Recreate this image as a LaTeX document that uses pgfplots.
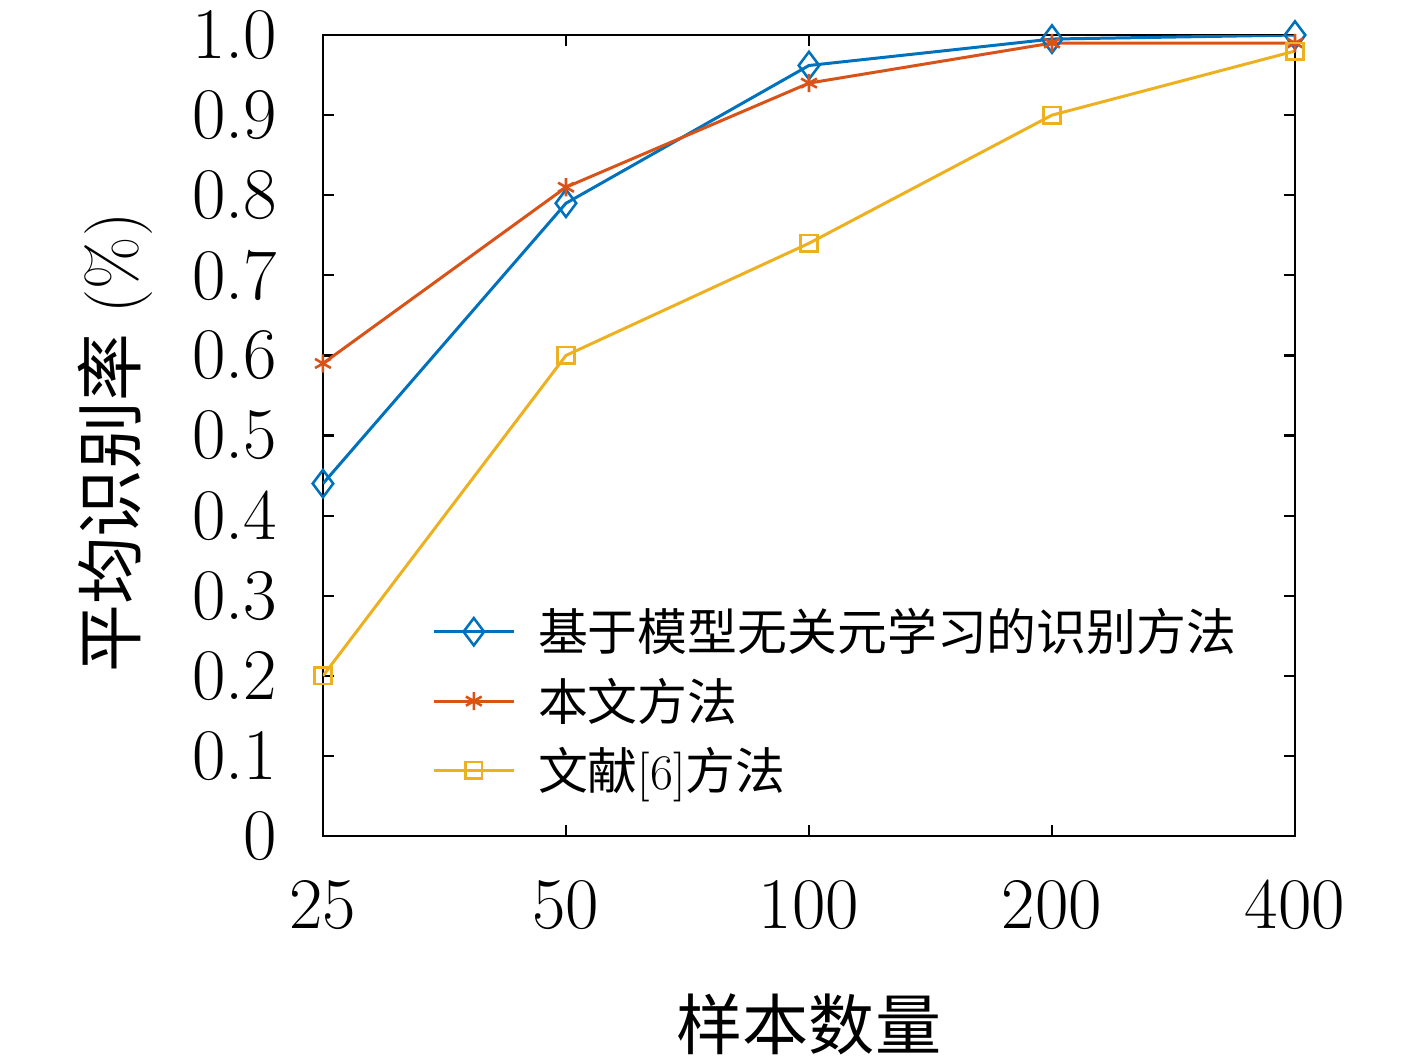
\documentclass[border=0pt]{standalone}
\usepackage{fontspec}
\usepackage{pgfplots}
\pgfplotsset{compat=1.18}
\newfontfamily\cjk{Noto Sans CJK SC}
\definecolor{mblue}{RGB}{0,114,189}
\definecolor{morange}{RGB}{217,83,25}
\definecolor{myellow}{RGB}{237,177,32}
\begin{document}
\begin{tikzpicture}
\begin{axis}[name=ax,
  scale only axis, width=341pt, height=281pt,
  xmin=0, xmax=4, ymin=0, ymax=1,
  xtick={0,1,2,3,4}, xticklabels={25,50,100,200,400},
  ytick={0,0.1,0.2,0.3,0.4,0.5,0.6,0.7,0.8,0.9,1.0},
  yticklabels={0,0.1,0.2,0.3,0.4,0.5,0.6,0.7,0.8,0.9,1.0},
  tick pos=both, tick align=inside, major tick length=4pt,
  axis line style={line width=1pt}, every tick/.style={line width=0.8pt, black},
  tick label style={font=\fontsize{25.5}{29}\selectfont},
  xticklabel style={yshift=-12pt},
  yticklabel style={xshift=-12.5pt},
  xlabel={\cjk 样本数量}, xlabel style={font=\fontsize{23.2}{27}\selectfont, at={(axis description cs:0.5,0)}, anchor=center, yshift=-66pt},
  ylabel={{\cjk 平均识别率} (\%)}, ylabel style={font=\fontsize{23.8}{27}\selectfont, at={(axis description cs:-0.214,0.491)}, anchor=center},
  legend style={draw=none, fill=none, at={(axis description cs:0.112,0.292)}, anchor=north west, font=\fontsize{17.5}{20}\selectfont, row sep=4pt, inner sep=0pt,
    nodes={inner xsep=8pt}},
  legend cell align=left,
  legend image code/.code={\draw[mark repeat=2,mark phase=2] plot coordinates {(0pt,0pt) (14pt,0pt) (28pt,0pt)};},
  every axis plot/.append style={line width=1.05pt},
]
\addplot[color=mblue, mark=diamond, mark size=4.8pt, mark options={solid, line width=0.9pt}] coordinates {(0,0.44) (1,0.79) (2,0.962) (3,0.995) (4,1.0)};
\addlegendentry{\cjk 基于模型无关元学习的识别方法}
\addplot[color=morange, mark=asterisk, mark size=3.2pt, mark options={solid, line width=0.9pt}] coordinates {(0,0.59) (1,0.81) (2,0.94) (3,0.99) (4,0.99)};
\addlegendentry{\cjk 本文方法}
\addplot[color=myellow, mark=square, mark size=2.9pt, mark options={solid, line width=0.9pt}] coordinates {(0,0.20) (1,0.60) (2,0.74) (3,0.90) (4,0.98)};
\addlegendentry{{\cjk 文献}[6]{\cjk 方法}}
\end{axis}
\pgfresetboundingbox
\path ([xshift=-113.3pt,yshift=-77.5pt]ax.south west) rectangle ([xshift=42.8pt,yshift=12.3pt]ax.north east);
\end{tikzpicture}
\end{document}
